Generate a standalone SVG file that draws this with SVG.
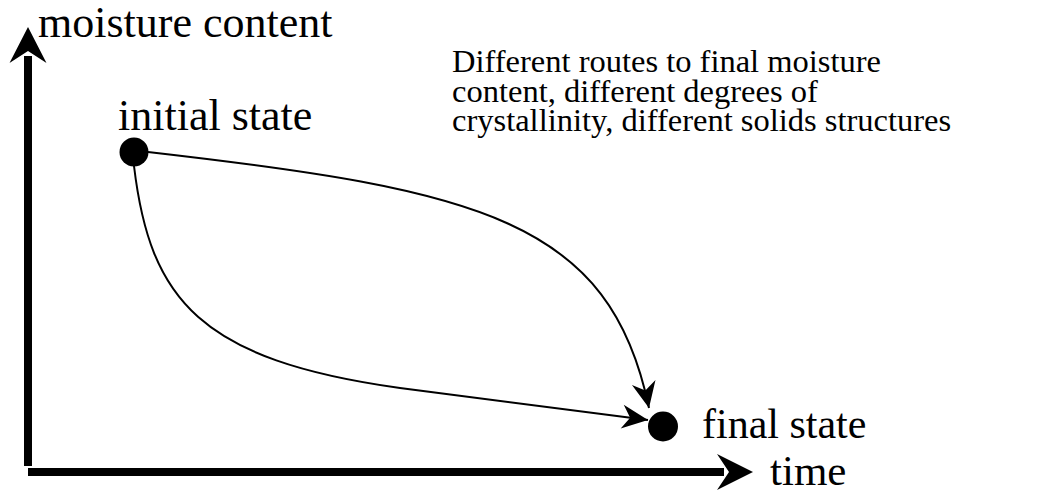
<svg xmlns="http://www.w3.org/2000/svg" width="1039" height="498" viewBox="0 0 1039 498">
  <style>
    text { fill: #000; }
    .axis { stroke: #000; stroke-width: 8; fill: none; }
    .route { stroke: #000; stroke-width: 2; fill: none; }
    .state { fill: #000; }
  </style>
  <defs>
    <!-- notched arrowhead for the drying routes -->
    <marker id="routeHead" markerUnits="userSpaceOnUse" markerWidth="30" markerHeight="30" viewBox="-27 -13 30 26" refX="0" refY="0" orient="auto">
      <path d="M0,0 L-26,-12 L-18,0 L-26,12 Z" fill="#000"/>
    </marker>
  </defs>
  <rect width="1039" height="498" fill="#fff"/>

  <!-- axes -->
  <g id="axes">
    <line class="axis" x1="28" y1="466" x2="28" y2="56"/>
    <path d="M28,27 L46.5,63 L28,51 L9.5,63 Z" fill="#000"/>
    <line class="axis" x1="28" y1="472" x2="724" y2="472"/>
    <path d="M753,472 L717,454 L729,472 L717,490 Z" fill="#000"/>
    <text font-family="'Liberation Serif', 'Times New Roman', Times, serif" x="38" y="37" font-size="44">moisture content</text>
    <text font-family="'Liberation Serif', 'Times New Roman', Times, serif" x="770" y="485" font-size="43">time</text>
  </g>

  <!-- connectors: drying routes -->
  <g id="connectors">
    <path class="route" d="M148,152 C480,190 610,220 649,408" marker-end="url(#routeHead)"/>
    <path class="route" d="M134,166 C150,300 200,360 400,388 L648,420" marker-end="url(#routeHead)"/>
  </g>

  <g id="initial-state">
    <circle class="state" cx="134" cy="152" r="14.5"/>
    <text font-family="'Liberation Serif', 'Times New Roman', Times, serif" x="118" y="130" font-size="44">initial state</text>
  </g>

  <g id="final-state">
    <circle class="state" cx="663" cy="426.5" r="15"/>
    <text font-family="'Liberation Serif', 'Times New Roman', Times, serif" x="702" y="438" font-size="42">final state</text>
  </g>

  <g id="note" font-family="'Liberation Serif', 'Times New Roman', Times, serif" font-size="32.5">
    <text x="452" y="72">Different routes to final moisture</text>
    <text x="452" y="102">content, different degrees of</text>
    <text x="452" y="131">crystallinity, different solids structures</text>
  </g>
</svg>
